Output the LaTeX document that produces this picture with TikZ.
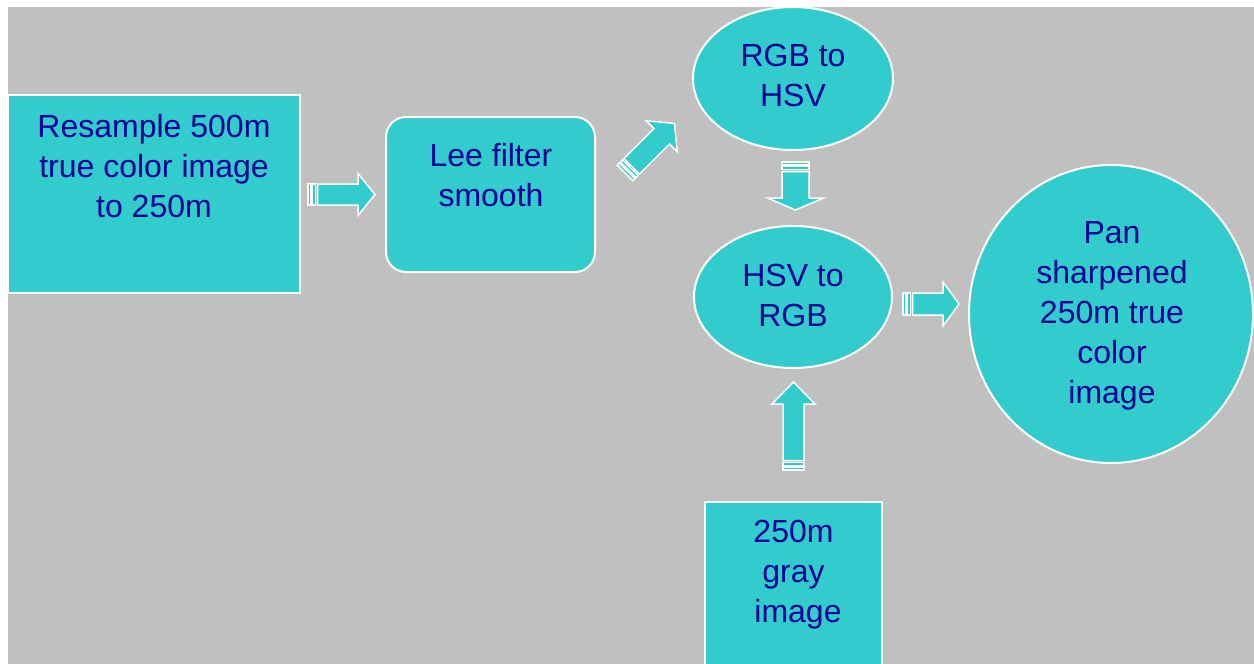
\documentclass[tikz,border=0pt]{standalone}
\usepackage{fontspec}
\setmainfont{Liberation Sans}
\usetikzlibrary{shapes.geometric}

\definecolor{panelgray}{RGB}{192,192,192}
\definecolor{stepfill}{RGB}{51,204,204}
\definecolor{stepink}{RGB}{0,0,150}

\tikzset{
  shapebox/.style={draw=white, line width=1pt, fill=stepfill, inner sep=0pt, outer sep=0pt},
  steptext/.style={text=stepink, font=\fontsize{16}{20}\selectfont, align=center,
                   anchor=north, inner sep=0pt},
  blockpart/.style={fill=stepfill, draw=white, line width=0.75pt, line join=miter},
}

% Striped block arrow: name, tail x, tail y, angle, length,
% shaft half-width, head half-width, head length (all in pixel units)
\newcommand\blockarrow[8]{%
  \begin{scope}[shift={(#2,#3)}, rotate=#4]
    \coordinate (#1-tail) at (0,0);
    \coordinate (#1-tip) at (#5,0);
    \filldraw[blockpart] (0,-#6) rectangle (3,#6);
    \filldraw[blockpart] (4.5,-#6) rectangle (7.5,#6);
    \filldraw[blockpart] (9.5,-#6) -- ({#5-#8},-#6) -- ({#5-#8},-#7) -- (#5,0)
      -- ({#5-#8},#7) -- ({#5-#8},#6) -- (9.5,#6) -- cycle;
  \end{scope}}

\begin{document}
\begin{tikzpicture}[x=0.5pt, y=-0.5pt]
  \fill[white] (0,0) rectangle (1254,664);
  \useasboundingbox (0,0) rectangle (1254,664);
  \fill[panelgray] (8,7) rectangle (1254,664);

  \begin{scope}
    \clip (8,7) rectangle (1254,664);

    % process shapes
    \node[shapebox, rectangle, minimum width=146pt, minimum height=99pt] (resample) at (154,194) {};
    \node[shapebox, rectangle, rounded corners=10pt, minimum width=104.5pt, minimum height=77.5pt] (lee) at (490.5,194.5) {};
    \node[shapebox, ellipse, minimum width=100pt, minimum height=71.5pt] (tohsv) at (793,78.5) {};
    \node[shapebox, ellipse, minimum width=99pt, minimum height=71pt] (torgb) at (793,297) {};
    \node[shapebox, ellipse, minimum width=142pt, minimum height=149pt] (pan) at (1111,314) {};
    \node[shapebox, rectangle, minimum width=88.5pt, minimum height=89pt] (gray) at (793.5,591) {};

    % labels
    \node[steptext] (resample-text) at (154,114) {Resample 500m\\true color image\\to 250m};
    \node[steptext] (lee-text) at (491,143) {Lee filter\\smooth};
    \node[steptext] (tohsv-text) at (793,44) {RGB to\\HSV};
    \node[steptext] (torgb-text) at (793,264) {HSV to\\RGB};
    \node[steptext] (pan-text) at (1112,221) {Pan\\sharpened\\250m true\\color\\image};
    \node[steptext] (gray-text) at (793.5,520) {250m\\gray\\\hspace*{4.5pt}image};

    % flow arrows
    \blockarrow{a1}{308}{194.5}{0}{67}{10.5}{21}{17}
    \blockarrow{a2}{625}{173}{45}{70}{11}{22}{18}
    \blockarrow{a3}{795.5}{162}{-90}{48}{13.5}{28}{12}
    \blockarrow{a4}{903}{304}{0}{56}{11}{22}{16}
    \blockarrow{a5}{793.5}{470}{90}{88}{10.5}{21.5}{22}
  \end{scope}
\end{tikzpicture}
\end{document}
